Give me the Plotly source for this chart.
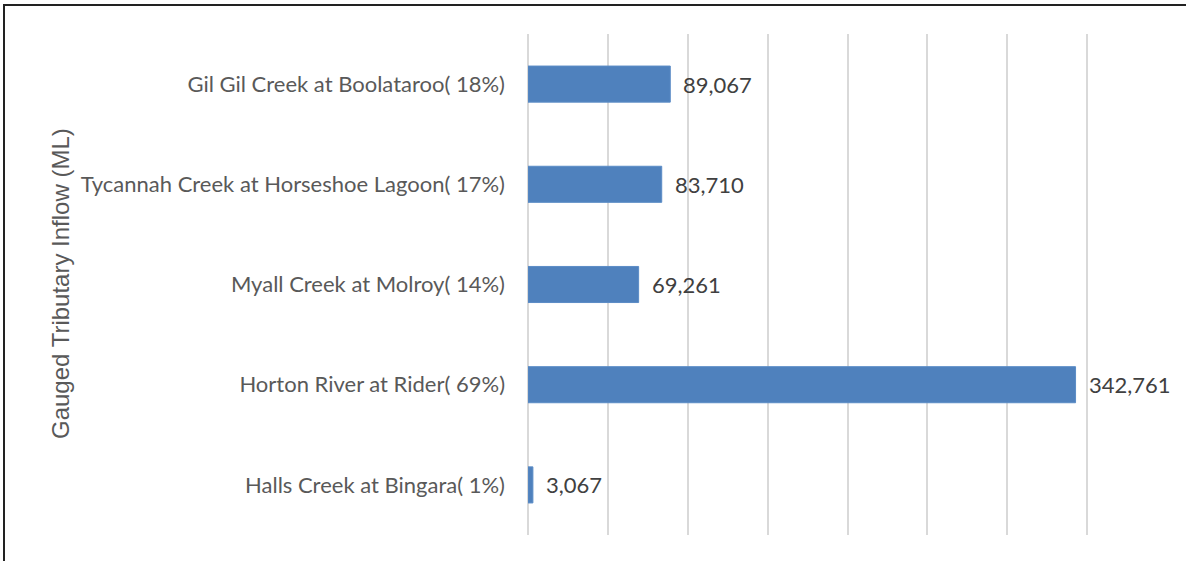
import plotly.graph_objects as go

categories = [
    "Gil Gil Creek at Boolataroo( 18%)",
    "Tycannah Creek at Horseshoe Lagoon( 17%)",
    "Myall Creek at Molroy( 14%)",
    "Horton River at Rider( 69%)",
    "Halls Creek at Bingara( 1%)",
]
values = [89067, 83710, 69261, 342761, 3067]
axis_title = "Gauged Tributary Inflow (ML)"

FONT = "Lato"
L, R, T, B = 528, 19, 34, 26
W, H = 1186, 561
PW, PH = W - L - R, H - T - B

fig = go.Figure()
fig.add_trace(go.Bar(
    y=categories, x=values, orientation="h",
    marker=dict(color="#4f81bd", line=dict(color="#5b8cc6", width=1)),
    width=0.36,
))
for c, v in zip(categories, values):
    fig.add_annotation(x=v, y=c, text=f"{v:,}", showarrow=False,
                       xanchor="left", xshift=11,
                       font=dict(family=FONT, size=22, color="#404040"))

fig.add_annotation(xref="paper", yref="paper",
                   x=(60 - L) / PW, y=(H - B - 284) / PH,
                   text=axis_title, textangle=-90, showarrow=False,
                   xanchor="center", yanchor="middle",
                   font=dict(family="Liberation Sans", size=24, color="#595959"))

fig.update_layout(
    width=W, height=H,
    margin=dict(l=L, r=R, t=T, b=B),
    paper_bgcolor="white", plot_bgcolor="white",
    showlegend=False,
    font=dict(family=FONT, size=22, color="#595959"),
    xaxis=dict(range=[0, 400000], dtick=50000, showgrid=True,
               gridcolor="#d9d9d9", gridwidth=2, showticklabels=False,
               zeroline=True, zerolinecolor="#d9d9d9", zerolinewidth=2,
               showline=False, fixedrange=True),
    yaxis=dict(autorange="reversed", showgrid=False, showline=False,
               ticks="", ticklabelstandoff=22, fixedrange=True,
               tickfont=dict(family=FONT, size=22, color="#595959")),
    shapes=[dict(type="rect", xref="paper", yref="paper",
                 x0=(4 - L) / PW, x1=(1200 - L) / PW,
                 y0=(H - B - 575) / PH, y1=(H - B - 5) / PH,
                 line=dict(color="#222222", width=2), layer="below")],
)
fig.write_html("out.html", config={"displayModeBar": False},
               post_script="document.body.style.margin='0';")
